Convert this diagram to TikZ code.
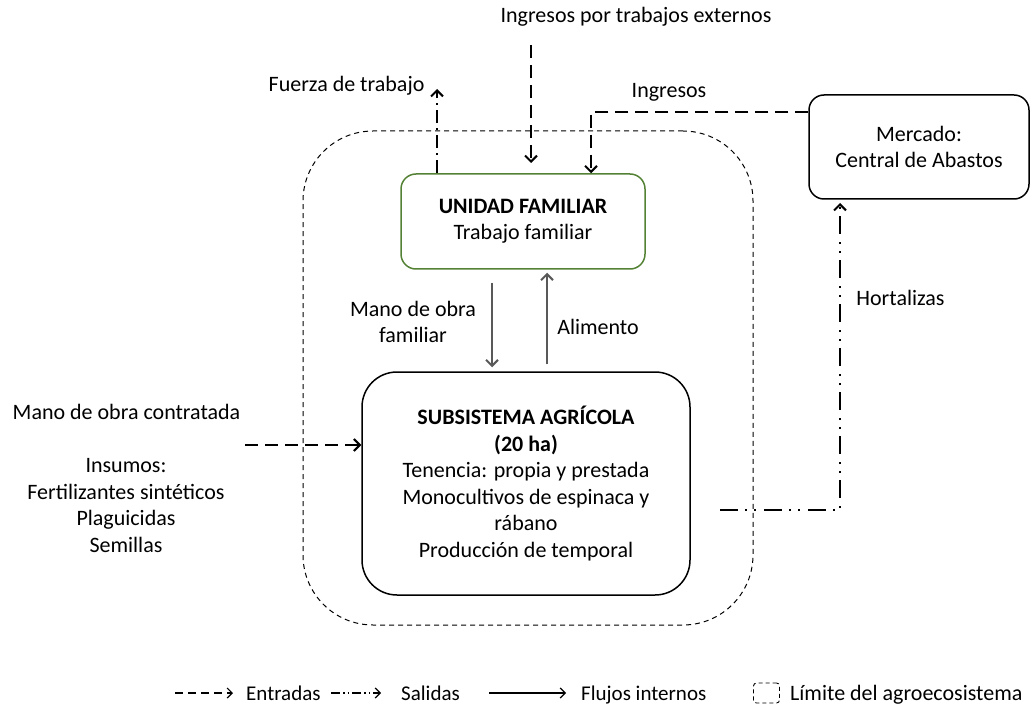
\documentclass[tikz,border=0pt]{standalone}
\usepackage{fontspec}
\setmainfont{Carlito}
\usetikzlibrary{arrows.meta}
\definecolor{famgreen}{HTML}{548235}
\definecolor{flowgray}{HTML}{595959}
\begin{document}
\begin{tikzpicture}[x=1pt,y=-1pt,
  txt/.style={font=\fontsize{22}{26.5}\selectfont, inner sep=0pt, align=center},
  box/.style={draw, line width=1.5pt, txt},
  tipo/.style={-{Straight Barb[length=6pt,width=12pt,line width=2pt]}},
  entrada/.style={tipo, line width=2pt, dash pattern=on 13pt off 7pt},
  salida/.style={tipo, line width=2pt, dash pattern=on 13pt off 5pt on 2pt off 5pt},
  salidados/.style={tipo, line width=2pt, dash pattern=on 18pt off 7pt on 2pt off 7pt on 2pt off 8pt},
  interno/.style={-{Straight Barb[length=6pt,width=12pt,line width=2pt]}, line width=2pt, flowgray},
  limite/.style={draw, line width=1pt, dash pattern=on 5pt off 4pt},
  leyenda/.style={line width=1.2pt, -{Straight Barb[length=5pt,width=10pt,line width=1.2pt]}}
]
\useasboundingbox (0,0) rectangle (1031,711);

% system boundary
\node[limite, rounded corners=70pt, minimum width=450pt, minimum height=494pt, inner sep=0pt] (limite) at (528,378) {};

% main boxes
\node[box, draw=famgreen, rounded corners=15pt, minimum width=244pt, minimum height=95pt] (unidad) at (523,221.5)
  {\textbf{UNIDAD FAMILIAR}\\Trabajo familiar};
\node[box, rounded corners=35pt, minimum width=328pt, minimum height=223pt] (subsistema) at (526,483.5)
  {\textbf{SUBSISTEMA AGRÍCOLA}\\\textbf{(20 ha)}\\Tenencia: propia y prestada\\Monocultivos de espinaca y\\rábano\\Producción de temporal};
\node[box, rounded corners=15pt, minimum width=220pt, minimum height=104pt] (mercado) at (919,147)
  {Mercado:\\Central de Abastos};

% labels (multi-line labels are placed by the baseline of their last line)
\node[txt, anchor=base] (lext) at (636,23) {Ingresos por trabajos externos};
\node[txt, anchor=base] (lfuerza) at (346.5,92) {Fuerza de trabajo};
\node[txt, anchor=base] (lingresos) at (669,98) {Ingresos};
\node[txt, anchor=base] (lmano) at (413,343) {Mano de obra\\familiar};
\node[txt, anchor=base] (lalim) at (598,335) {Alimento};
\node[txt, anchor=base] (lcontr) at (126.5,419) {Mano de obra contratada};
\node[txt, anchor=base] (linsumos) at (126,552) {Insumos:\\Fertilizantes sintéticos\\Plaguicidas\\Semillas};
\node[txt, anchor=base] (lhort) at (900.5,306) {Hortalizas};

% free ends and bends of connectors
\coordinate (fuerzaend) at (437,89);
\coordinate (extstart) at (531,45);
\coordinate (extend) at (531,163);
\coordinate (ingcorner) at (591,112);
\coordinate (contrstart) at (245,445);
\coordinate (hortstart) at (720,510);
\coordinate (hortcorner) at (840,510);
\coordinate (hortend) at (840,203);
\coordinate (manox) at (492,0);
\coordinate (alimx) at (547,0);

% external flows
\draw[salida] (unidad.north -| fuerzaend) -- (fuerzaend);
\draw[entrada] (extstart) -- (extend);
\draw[entrada] (mercado.west |- ingcorner) -- (ingcorner) -- (unidad.north -| ingcorner);
\draw[entrada] (contrstart) -- (subsistema.west |- contrstart);
\draw[salidados] (hortstart) -- (hortcorner) -- (hortend);

% internal flows
\draw[interno, shorten <=13pt, shorten >=4pt] (unidad.south -| manox) -- (subsistema.north -| manox);
\draw[interno, shorten <=7pt, shorten >=3pt] (subsistema.north -| alimx) -- (unidad.south -| alimx);

% legend
\coordinate (le1a) at (175,693); \coordinate (le1b) at (233,693);
\coordinate (le2a) at (331,693); \coordinate (le2b) at (381,693);
\coordinate (le3a) at (489,693); \coordinate (le3b) at (566,693);
\draw[leyenda, dash pattern=on 8pt off 5pt] (le1a) -- (le1b);
\draw[leyenda, dash pattern=on 9pt off 3pt on 1.5pt off 3pt on 1.5pt off 3pt] (le2a) -- (le2b);
\draw[leyenda] (le3a) -- (le3b);
\node[limite, line width=0.9pt, dash pattern=on 4pt off 3pt, rounded corners=3pt, minimum width=26pt, minimum height=20pt, inner sep=0pt] (lelim) at (766.5,693) {};
\node[txt, anchor=base west, font=\fontsize{21}{25}\selectfont] (lentr) at (246,700) {Entradas};
\node[txt, anchor=base west, font=\fontsize{21}{25}\selectfont] (lsal) at (401,700) {Salidas};
\node[txt, anchor=base west, font=\fontsize{21}{25}\selectfont] (lflu) at (581,700) {Flujos internos};
\node[txt, anchor=base west] (llim) at (790,700) {Límite del agroecosistema};
\end{tikzpicture}
\end{document}
